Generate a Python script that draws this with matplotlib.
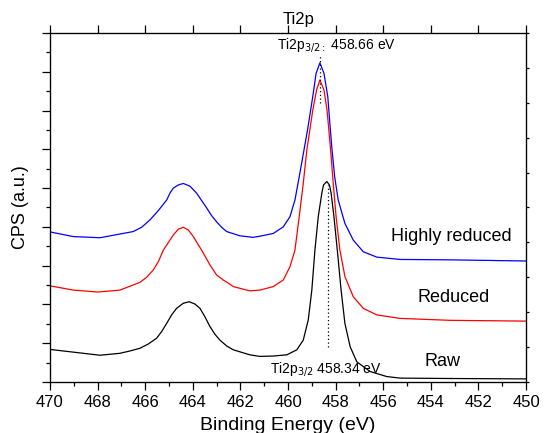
import matplotlib
matplotlib.use("Agg")
import matplotlib.pyplot as plt
from matplotlib.ticker import MultipleLocator

plt.rcParams['font.family'] = ['Liberation Sans', 'DejaVu Sans']

# values (binding energy in eV, intensity in a.u.)
raw_E = [470.0, 469.02, 467.9, 467.06, 466.64, 466.22, 465.87, 465.52, 465.31, 465.1,
         464.89, 464.68, 464.4, 464.15, 463.91, 463.7, 463.49, 463.28, 463.07, 462.86,
         462.58, 462.3, 461.6, 461.18, 460.62, 460.05, 459.63, 459.36, 459.15, 459.0,
         458.87, 458.73, 458.58, 458.51, 458.37, 458.26, 458.19, 458.07, 457.93, 457.77,
         457.61, 457.39, 457.11, 456.55, 455.85, 455.29, 453.19, 450.0]
raw_I = [0.84, 0.77, 0.69, 0.74, 0.80, 0.87, 0.98, 1.13, 1.30, 1.51,
         1.73, 1.90, 2.03, 2.07, 2.01, 1.90, 1.68, 1.43, 1.23, 1.08,
         0.93, 0.83, 0.70, 0.66, 0.67, 0.70, 0.83, 1.08, 1.60, 2.37,
         3.40, 4.26, 4.87, 5.08, 5.17, 5.08, 4.87, 4.26, 3.40, 2.37,
         1.51, 0.91, 0.52, 0.27, 0.14, 0.10, 0.09, 0.08]

red_E = [470.0, 469.02, 467.98, 467.06, 466.22, 465.94, 465.66, 465.45, 465.24, 464.82,
         464.61, 464.4, 464.19, 463.98, 463.63, 463.28, 463.0, 462.72, 462.51, 462.3,
         461.6, 461.18, 460.62, 460.2, 459.92, 459.71, 459.53, 459.36, 459.21, 458.96,
         458.8, 458.66, 458.49, 458.36, 458.21, 458.1, 457.98, 457.82, 457.61, 457.26,
         456.84, 456.27, 455.29, 453.19, 450.0]
red_I = [2.48, 2.37, 2.32, 2.37, 2.57, 2.70, 2.89, 3.10, 3.40, 3.79,
         3.94, 3.99, 3.92, 3.75, 3.40, 3.02, 2.76, 2.63, 2.55, 2.46,
         2.35, 2.37, 2.46, 2.63, 2.97, 3.40, 4.26, 5.12, 5.98, 7.01,
         7.53, 7.79, 7.53, 7.01, 5.98, 5.12, 4.26, 3.40, 2.72, 2.20,
         1.90, 1.73, 1.64, 1.59, 1.57]

blue_E = [470.0, 469.02, 467.9, 466.5, 466.15, 465.8, 465.45, 465.1, 464.96, 464.82,
          464.61, 464.4, 464.12, 463.84, 463.63, 463.42, 463.21, 463.0, 462.79, 462.58,
          462.02, 461.47, 461.18, 460.62, 460.2, 459.92, 459.71, 459.53, 459.33, 459.18,
          458.96, 458.82, 458.66, 458.49, 458.33, 458.22, 458.15, 458.04, 457.89, 457.61,
          457.26, 456.84, 456.27, 455.29, 453.19, 450.0]
blue_I = [3.87, 3.75, 3.72, 3.88, 3.99, 4.18, 4.42, 4.69, 4.87, 5.00,
          5.08, 5.12, 5.05, 4.87, 4.68, 4.49, 4.29, 4.13, 3.99, 3.88,
          3.77, 3.73, 3.76, 3.83, 4.00, 4.26, 4.69, 5.29, 5.98, 6.50,
          7.36, 7.96, 8.23, 7.96, 7.36, 6.50, 5.98, 5.29, 4.69, 4.09,
          3.66, 3.36, 3.22, 3.16, 3.15, 3.12]

peak_reduced = 458.66
peak_raw = 458.34

fig = plt.figure(figsize=(5.44, 4.33), dpi=100)
ax = fig.add_axes([0.0919, 0.1178, 0.8751, 0.806])

ax.plot(raw_E, raw_I, color='black', lw=0.9)
ax.plot(red_E, red_I, color='red', lw=0.9)
ax.plot(blue_E, blue_I, color='blue', lw=0.9)

ax.plot([peak_reduced, peak_reduced], [7.19, 8.43], color='black', ls=(0, (1, 2)), lw=0.9)
ax.plot([peak_raw, peak_raw], [0.91, 5.08], color='black', ls=(0, (1, 2)), lw=0.9)

ax.set_xlim(470, 450)
ax.set_ylim(0, 9)
ax.xaxis.set_major_locator(MultipleLocator(2))
ax.xaxis.set_minor_locator(MultipleLocator(1))
ax.yaxis.set_major_locator(MultipleLocator(1))
ax.yaxis.set_minor_locator(MultipleLocator(0.5))
ax.tick_params(which='major', direction='out', length=5.5, width=0.9, labelsize=12, top=True)
ax.tick_params(which='minor', direction='out', length=3, width=0.9, top=False)
ax.tick_params(axis='x', which='major', pad=4)
ax.tick_params(axis='y', which='both', labelleft=False)
for s in ax.spines.values():
    s.set_linewidth(0.9)

ax2 = ax.twinx()
ax2.set_ylim(0, 10)
ax2.yaxis.set_major_locator(MultipleLocator(1))
ax2.tick_params(axis='y', direction='out', length=2, width=0.9, labelright=False)

ax.set_xlabel('Binding Energy (eV)', fontsize=14, labelpad=5)
ax.set_ylabel('CPS (a.u.)', fontsize=13, labelpad=9.5)
ax.text(0.522, 1.04, 'Ti2p', transform=ax.transAxes, ha='center', va='center', fontsize=12)

ax.text(460.46, 8.69, r'Ti2p$_{3/2:}$ 458.66 eV', ha='left', va='center', fontsize=10)
ax.text(460.76, 0.34, r'Ti2p$_{3/2}$ 458.34 eV', ha='left', va='center', fontsize=10)

ax.text(453.13, 3.74, 'Highly reduced', ha='center', va='center', fontsize=13)
ax.text(453.03, 2.17, 'Reduced', ha='center', va='center', fontsize=13)
ax.text(453.49, 0.52, 'Raw', ha='center', va='center', fontsize=13)

fig.savefig('out.png', dpi=100)
